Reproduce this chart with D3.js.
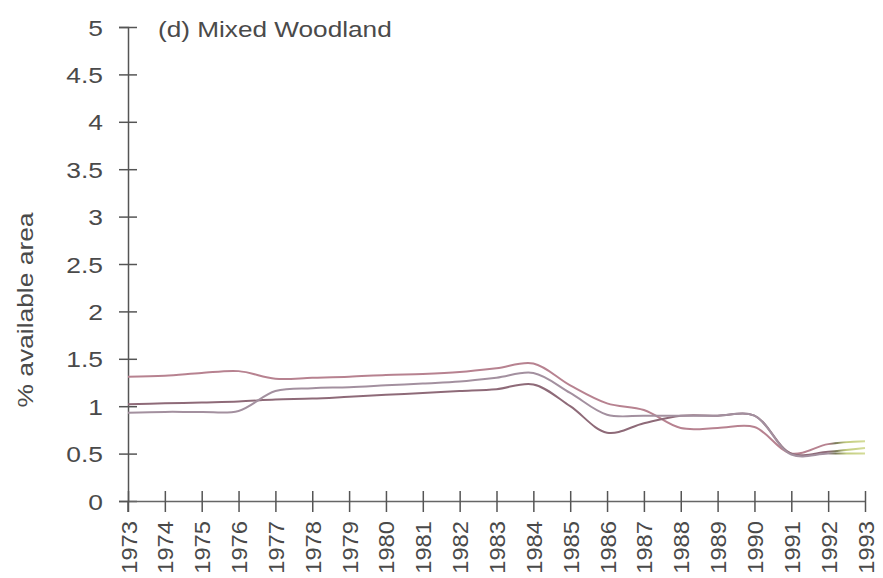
<!DOCTYPE html>
<html>
<head>
<meta charset="utf-8">
<script src="https://cdn.jsdelivr.net/npm/d3@7"></script>
<style>
  body { margin: 0; background: #fff; }
  text { font-family: "Liberation Sans", Arial, sans-serif; fill: #4a4a4a; }
</style>
</head>
<body>
<div id="chart"></div>
<script>
// categories and series
var years = ["1973","1974","1975","1976","1977","1978","1979","1980","1981","1982","1983",
             "1984","1985","1986","1987","1988","1989","1990","1991","1992","1993"];
var seriesA = [1.31,1.32,1.35,1.37,1.29,1.30,1.31,1.33,1.34,1.36,1.40,1.45,1.22,1.03,0.96,0.77,0.77,0.78,0.50,0.60,0.63];
var seriesB = [1.02,1.03,1.04,1.05,1.07,1.08,1.10,1.12,1.14,1.16,1.18,1.23,1.00,0.72,0.82,0.90,0.90,0.90,0.50,0.52,0.56];
var seriesC = [0.93,0.94,0.94,0.95,1.16,1.19,1.20,1.22,1.24,1.26,1.30,1.35,1.14,0.91,0.90,0.90,0.90,0.90,0.49,0.50,0.50];
var yTicks = [0,0.5,1,1.5,2,2.5,3,3.5,4,4.5,5];
var title = "(d) Mixed Woodland";
var yLabel = "% available area";

var width = 883, height = 578;
var margin = {top: 27, right: 18, bottom: 77, left: 128};
var stretch = 1.2;

var svg = d3.select("#chart")
  .append("svg")
    .attr("width", width)
    .attr("height", height);

var x = d3.scalePoint()
  .domain(years)
  .range([margin.left, width - margin.right]);

var y = d3.scaleLinear()
  .domain([0, 5])
  .range([height - margin.bottom, margin.top]);

// y axis, cross ticks
var yAxis = svg.append("g")
  .attr("transform", "translate(" + margin.left + ",0)")
  .call(d3.axisLeft(y).tickValues(yTicks).tickSize(9).tickFormat(function(d){ return d; }));
yAxis.select(".domain").attr("stroke", "#555").attr("stroke-width", 1.5);
yAxis.selectAll(".tick line").attr("x1", -9).attr("x2", 9).attr("stroke", "#555").attr("stroke-width", 1.5);
yAxis.selectAll(".tick text")
  .attr("x", null).attr("dy", null)
  .attr("text-anchor", "end")
  .attr("transform", "translate(-25,8) scale(" + stretch + ",1)")
  .style("font-size", "22px").style("font-family", null);

// x axis, cross ticks, rotated labels
var xAxis = svg.append("g")
  .attr("transform", "translate(0," + y(0) + ")")
  .call(d3.axisBottom(x).tickSize(10).tickSizeOuter(0));
xAxis.select(".domain").attr("stroke", "#666").attr("stroke-width", 1.5);
xAxis.selectAll(".tick line").attr("y1", -10).attr("y2", 11).attr("stroke", "#555").attr("stroke-width", 1.5);
xAxis.selectAll(".tick text")
  .attr("y", null).attr("dy", null)
  .attr("text-anchor", "end")
  .attr("transform", "translate(8,20) rotate(-90) scale(1.08,1)")
  .style("font-size", "22px").style("font-family", null);

// extend y axis line down to the 1973 tick
svg.append("line")
  .attr("x1", margin.left).attr("x2", margin.left)
  .attr("y1", y(0)).attr("y2", y(0) + 11)
  .attr("stroke", "#555").attr("stroke-width", 1.5);

// title
svg.append("text")
  .attr("transform", "translate(158,37) scale(1.19,1)")
  .style("font-size", "22px")
  .text(title);

// y label
svg.append("text")
  .attr("transform", "translate(33,310) rotate(-90) scale(1.2,1)")
  .attr("text-anchor", "middle")
  .style("font-size", "22px")
  .text(yLabel);

// lines, fading to a yellow-green on the last segment like the scan
var defs = svg.append("defs");
var lines = [
  {id: "gA", values: seriesA, color: "#b78290"},
  {id: "gB", values: seriesB, color: "#8e6a78"},
  {id: "gC", values: seriesC, color: "#a3909f"}
];
lines.forEach(function(s){
  var g = defs.append("linearGradient")
    .attr("id", s.id)
    .attr("gradientUnits", "userSpaceOnUse")
    .attr("x1", margin.left).attr("x2", width - margin.right)
    .attr("y1", 0).attr("y2", 0);
  var p = (x("1992") - margin.left) / (width - margin.right - margin.left);
  g.append("stop").attr("offset", 0).attr("stop-color", s.color);
  g.append("stop").attr("offset", p).attr("stop-color", s.color);
  g.append("stop").attr("offset", p + 0.01).attr("stop-color", "#7a7a5a");
  g.append("stop").attr("offset", p + 0.025).attr("stop-color", "#c2cc80");
  g.append("stop").attr("offset", 1).attr("stop-color", "#d4dc98");
});

var line = d3.line()
  .x(function(d, i){ return x(years[i]); })
  .y(function(d){ return y(d); })
  .curve(d3.curveCatmullRom.alpha(0.5));

svg.selectAll(".series")
  .data(lines)
  .enter()
  .append("path")
    .attr("class", "series")
    .attr("fill", "none")
    .attr("stroke", function(d){ return "url(#" + d.id + ")"; })
    .attr("stroke-width", 2)
    .attr("d", function(d){ return line(d.values); });
</script>
</body>
</html>
